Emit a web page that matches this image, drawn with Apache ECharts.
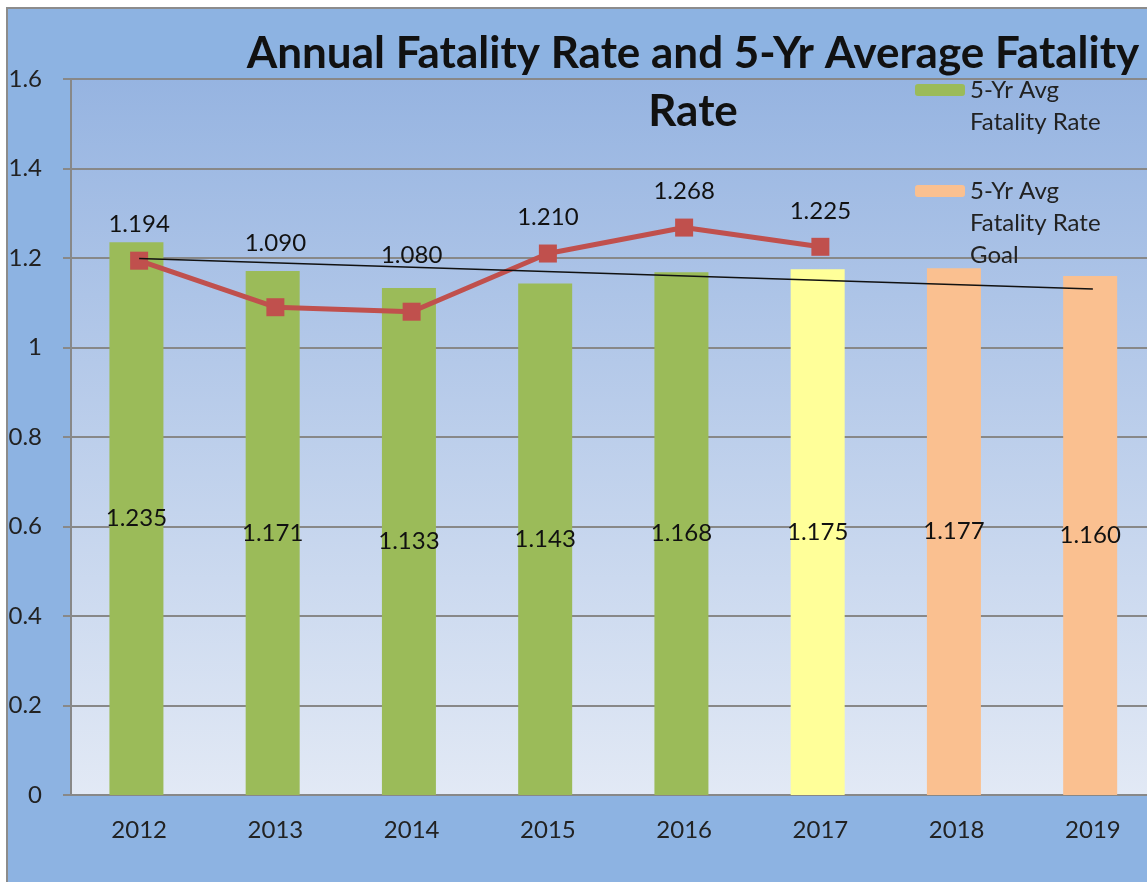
<!DOCTYPE html>
<html><head><meta charset="utf-8">
<script src="https://cdn.jsdelivr.net/npm/echarts@6/dist/echarts.min.js"></script>
<style>html,body{margin:0;padding:0;background:#fff}#c{width:1147px;height:882px}</style>
</head><body><div id="c"></div>
<script>
const years = ['2012','2013','2014','2015','2016','2017','2018','2019'];
const avgRate = [1.235, 1.171, 1.133, 1.143, 1.168, 1.175, 1.177, 1.160];
const barColors = ['#9BBB59','#9BBB59','#9BBB59','#9BBB59','#9BBB59','#FFFF99','#FAC090','#FAC090'];
const annualRate = [1.194, 1.090, 1.080, 1.210, 1.268, 1.225, null, null];
const trendLine = [1.199, null, null, null, null, null, null, 1.131];
const yTicks = [0, 0.2, 0.4, 0.6, 0.8, 1, 1.2, 1.4, 1.6];

// label lift (px) for line labels that sit above the bars
const labelDistance = [15, 43, 35, 15, 15, 15, 15, 15];

const chart = echarts.init(document.getElementById('c'));
const font = 'Lato';
const fs = 24;
chart.setOption({
  animation: false,
  backgroundColor: '#fff',
  graphic: [{
    type: 'rect', z: -10,
    shape: {x: 7, y: 8, width: 1150, height: 880},
    style: {fill: '#8DB3E2', stroke: '#8C8C8C', lineWidth: 2}
  }],
  title: {
    text: 'Annual Fatality Rate and 5-Yr Average Fatality\nRate',
    left: 688, top: 20, textAlign: 'center',
    textStyle: {fontFamily: font, fontWeight: 'bold', fontSize: 44, color: '#111', lineHeight: 58}
  },
  legend: {
    orient: 'vertical', left: 910, top: 37, itemWidth: 50, itemHeight: 12, itemGap: -27,
    textStyle: {fontFamily: font, fontSize: fs, color: '#222', lineHeight: 32},
    formatter: n => n.startsWith('5-Yr Avg\nFatality Rate\nGoal') ? '\n\n' + n : '\n' + n,
    data: [
      {name: '5-Yr Avg\nFatality Rate', itemStyle: {color: '#9BBB59'}},
      {name: '5-Yr Avg\nFatality Rate\nGoal', itemStyle: {color: '#FAC090'}}
    ]
  },
  grid: {
    left: 71, top: 79, width: 1090, height: 716, show: true, borderWidth: 0,
    outerBoundsMode: 'none', containLabel: false,
    backgroundColor: new echarts.graphic.LinearGradient(0, 0, 0, 1, [
      {offset: 0, color: '#96B4E1'}, {offset: 1, color: '#E2E9F5'}
    ])
  },
  xAxis: {
    type: 'category', data: years,
    axisLine: {lineStyle: {color: '#888', width: 2}},
    axisTick: {show: false},
    axisLabel: {fontFamily: font, fontSize: fs, color: '#222', margin: 23}
  },
  yAxis: {
    type: 'value', min: 0, max: 1.6, interval: 0.2,
    axisLine: {show: true, lineStyle: {color: '#888', width: 2}},
    axisTick: {show: true, length: 8, lineStyle: {color: '#888', width: 2}},
    splitLine: {lineStyle: {color: '#888', width: 2}},
    axisLabel: {fontFamily: font, fontSize: fs, color: '#222', margin: 29,
      formatter: v => yTicks.includes(Math.round(v*10)/10) ? String(Math.round(v*10)/10) : ''}
  },
  series: [
    {
      name: '5-Yr Avg\nFatality Rate', type: 'bar', barWidth: 54,
      data: avgRate.map((v, i) => ({value: v, itemStyle: {color: barColors[i]}})),
      label: {show: true, position: 'inside', fontFamily: font, fontSize: fs, color: '#111',
        formatter: p => p.value.toFixed(3)}
    },
    {
      name: '5-Yr Avg\nFatality Rate\nGoal', type: 'bar', data: [], itemStyle: {color: '#FAC090'}
    },
    {
      name: 'Annual', type: 'line',
      data: annualRate.map((v, i) => ({value: v, label: {distance: labelDistance[i]}})),
      lineStyle: {color: '#C0504D', width: 5},
      itemStyle: {color: '#C0504D'},
      symbol: 'rect', symbolSize: 18,
      label: {show: true, position: 'top', fontFamily: font, fontSize: fs, color: '#111',
        formatter: p => p.value == null ? '' : p.value.toFixed(3)},
      z: 5
    },
    {
      name: 'Trend', type: 'line', data: trendLine, connectNulls: true,
      lineStyle: {color: '#111', width: 1.5}, symbol: 'none', z: 6
    }
  ]
});
</script></body></html>
